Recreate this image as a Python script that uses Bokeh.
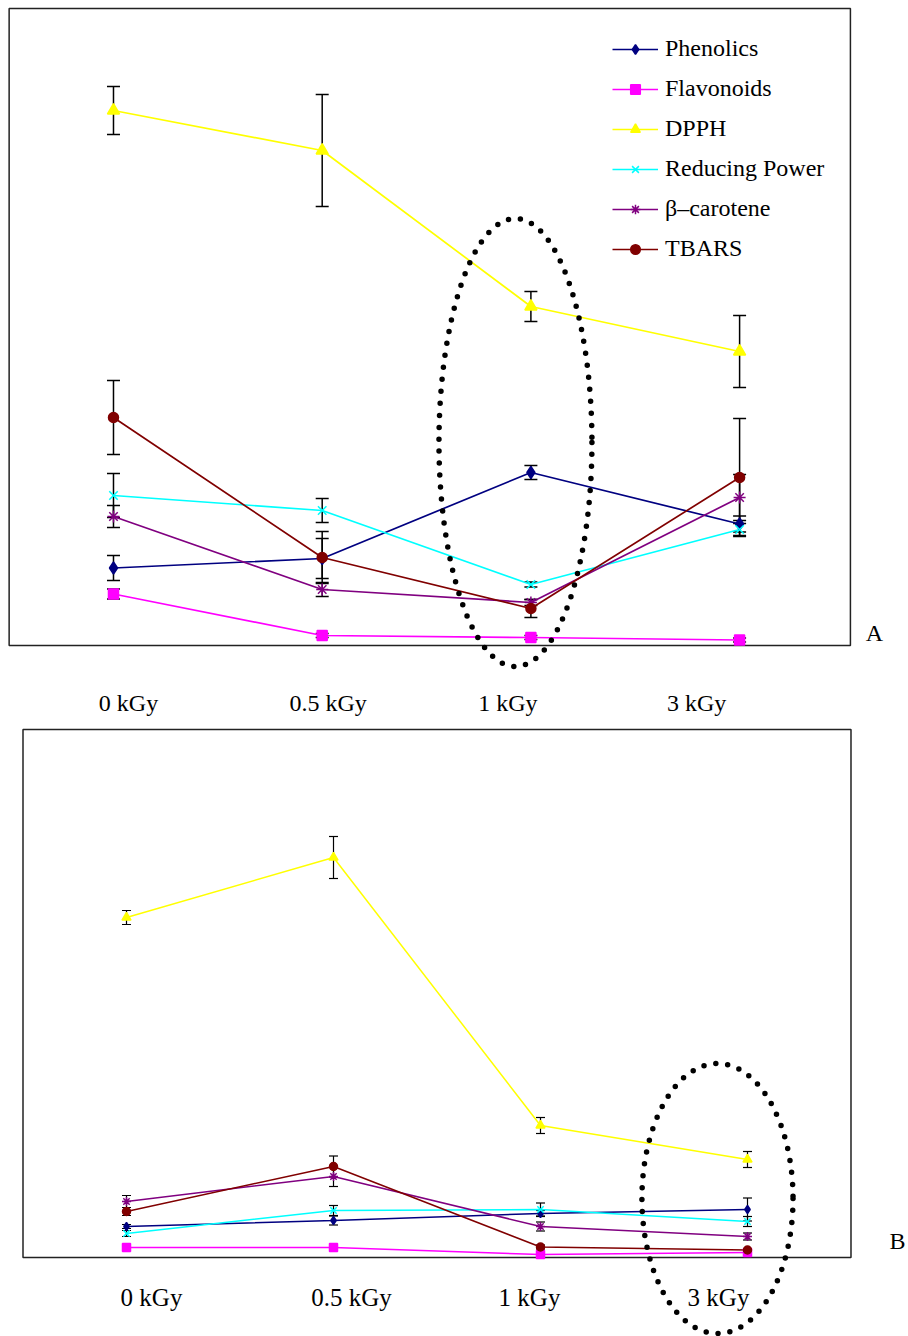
from bokeh.plotting import figure
from bokeh.models import ColumnDataSource, Whisker, TeeHead, Legend, LegendItem, Range1d
from bokeh.layouts import column
from bokeh.embed import file_html
from bokeh.resources import INLINE
from bokeh.core.properties import value

# ---------------- data (relative units, 0 = floor of plot area) ----------------
categories = ["0 kGy", "0.5 kGy", "1 kGy", "3 kGy"]
series_names = ["Phenolics", "Flavonoids", "DPPH", "Reducing Power", "\u03b2\u2013carotene", "TBARS"]

# Panel A
phen_a = [77.5, 87, 173, 121.5]
phen_a_err = [12.5, 20, 7, 8]
flav_a = [51.5, 10, 8, 5.5]
flav_a_err = [5, 2, 2, 2]
dpph_a = [535, 495, 339, 294]
dpph_a_err = [24, 56, 15, 36]
rp_a = [150, 135, 61, 116]
rp_a_err = [22, 12, 2.5, 6]
bcar_a = [129, 56, 43, 148]
bcar_a_err = [11, 7, 3, 23]
tbars_a = [228, 88, 37, 168]
tbars_a_err = [37, 26, 9, 59]

# Panel B
phen_b = [31, 37, 44, 48]
phen_b_err = [2, 4.5, 3, 11.5]
flav_b = [10, 10, 3, 5]
flav_b_err = [1.5, 1.5, 1, 1]
dpph_b = [340, 400, 132, 98]
dpph_b_err = [7, 21, 8, 8]
rp_b = [24, 47, 48, 36]
rp_b_err = [3, 5, 6.5, 5]
bcar_b = [56, 81, 31, 21]
bcar_b_err = [6, 10, 4.5, 3.5]
tbars_b = [46, 91, 10.5, 7.5]
tbars_b_err = [4, 10.5, 2, 1.5]

# ---------------- styles ----------------
colors = ["#000080", "#FF00FF", "#FFFF00", "#00FFFF", "#800080", "#800000"]
markers = ["diamond", "square", "triangle", "x", "asterisk", "circle"]
FONT = "Liberation Serif"

def make_panel(vals, errs, xr, yr, height, box, msizes, lw, wlw, cap,
               label_y, label_offsets, label_size, tag, tag_xy, ell, legend=None):
    p = figure(width=908, height=height, x_range=Range1d(*xr), y_range=Range1d(*yr),
               output_backend="svg", toolbar_location=None, min_border=0,
               x_axis_location=None, y_axis_location=None, outline_line_color=None,
               background_fill_color="white", border_fill_color="white")
    p.grid.visible = False
    # plot-area box
    p.quad(left=[box[0]], right=[box[1]], bottom=[box[2]], top=[box[3]],
           fill_color=None, line_color="#222222", line_width=1.5)
    xs = list(range(len(categories)))
    items = []
    for name, v, e, c, m, ms in zip(series_names, vals, errs, colors, markers, msizes):
        src = ColumnDataSource(dict(x=xs, y=v,
                                    upper=[a + b for a, b in zip(v, e)],
                                    lower=[a - b for a, b in zip(v, e)]))
        lr = p.line("x", "y", source=src, line_color=c, line_width=lw)
        w = Whisker(base="x", upper="upper", lower="lower", source=src,
                    line_color="black", line_width=wlw,
                    upper_head=TeeHead(size=cap, line_color="black", line_width=wlw),
                    lower_head=TeeHead(size=cap, line_color="black", line_width=wlw))
        p.add_layout(w)
        sr = p.scatter("x", "y", source=src, marker=m, size=ms, fill_color=c,
                       line_color=c, line_width=1.5, level="overlay")
        items.append(LegendItem(label=name, renderers=[lr, sr]))
    # category labels
    p.text(x=xs, y=[label_y] * len(xs), text=categories, x_offset=label_offsets,
           text_align="center", text_baseline="alphabetic",
           text_font=value(FONT), text_font_size=label_size, text_color="black")
    # panel tag
    p.text(x=[tag_xy[0]], y=[tag_xy[1]], text=[tag], text_align="center",
           text_baseline="alphabetic", text_font=value(FONT),
           text_font_size="24px", text_color="black")
    # dotted highlight ellipse
    p.ellipse(x=[ell[0]], y=[ell[1]], width=[ell[2]], height=[ell[3]],
              fill_color=None, line_color="black", line_width=5.5,
              line_dash="0 12", line_cap="round", level="overlay")
    if legend is not None:
        lg = Legend(items=items, location=legend, orientation="vertical",
                    label_text_font=FONT, label_text_font_size="24px",
                    label_text_color="black",
                    glyph_width=46, glyph_height=24, label_height=24,
                    label_standoff=7, spacing=13, padding=0, margin=0,
                    border_line_color=None, background_fill_alpha=0)
        p.add_layout(lg)
    return p

pA = make_panel(
    vals=[phen_a, flav_a, dpph_a, rp_a, bcar_a, tbars_a],
    errs=[phen_a_err, flav_a_err, dpph_a_err, rp_a_err, bcar_a_err, tbars_a_err],
    xr=(-0.5414, 3.8093), yr=(-77, 645), height=722,
    box=(-0.5, 3.531, 0, 637), msizes=[12, 10, 12, 12, 12, 10], lw=1.7, wlw=1.5, cap=13,
    label_y=-57, label_offsets=[15, 6, -23, -43], label_size="24px",
    tag="A", tag_xy=(3.646, 13), ell=(1.926, 203, 0.733, 448), legend=(612, 460))

pB = make_panel(
    vals=[phen_b, flav_b, dpph_b, rp_b, bcar_b, tbars_b],
    errs=[phen_b_err, flav_b_err, dpph_b_err, rp_b_err, bcar_b_err, tbars_b_err],
    xr=(-0.6087, 3.7778), yr=(-79, 535), height=614,
    box=(-0.5, 3.5, 0, 528), msizes=[8, 8, 9, 9, 9, 8], lw=1.5, wlw=1.2, cap=9,
    label_y=-40, label_offsets=[25, 18, -11, -29], label_size="25px",
    tag="B", tag_xy=(3.725, 17), ell=(2.855, 59, 0.73, 270), legend=None)

layout = column(pA, pB, spacing=0)
open("out.html", "w").write(file_html(layout, INLINE))
